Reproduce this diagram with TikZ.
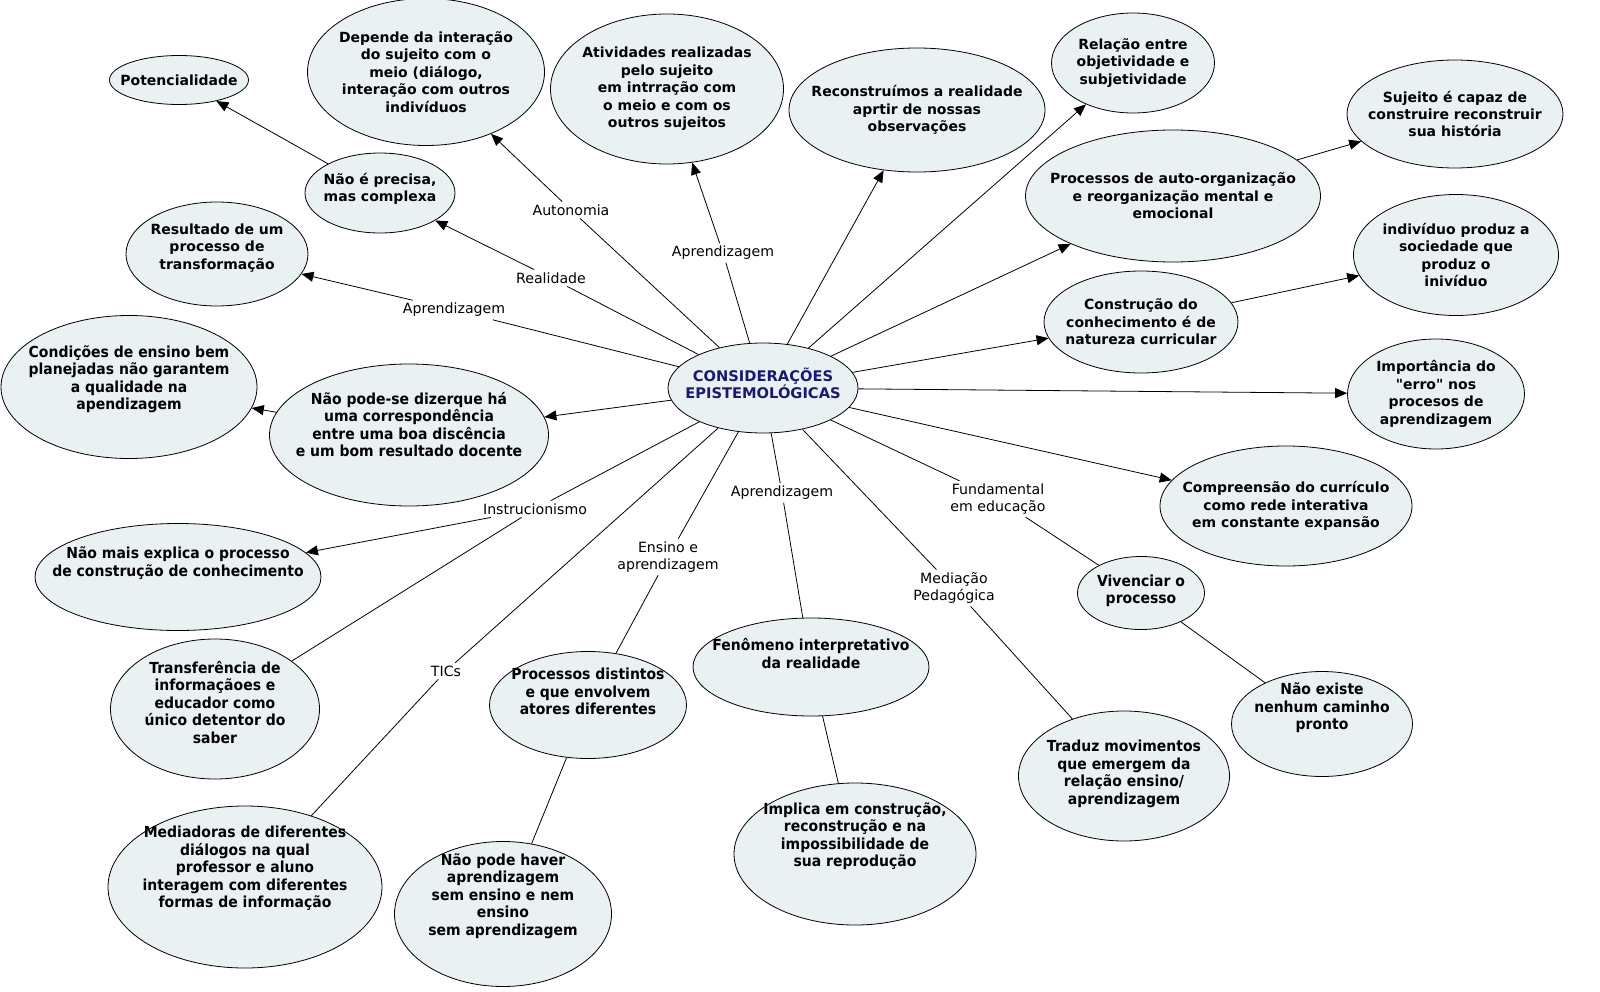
\documentclass[tikz,border=0pt]{standalone}
\usepackage{fontspec}
\setmainfont{DejaVu Sans}
\newfontfamily\condfont[FakeStretch=0.92]{DejaVu Sans}
\usetikzlibrary{shapes.geometric,arrows.meta}

\definecolor{bubfill}{RGB}{233,241,243}
\definecolor{navy}{RGB}{25,25,110}

\tikzset{
  bub/.style={ellipse,draw=black,fill=bubfill,line width=0.6pt,inner sep=0pt},
  btxt/.style={font=\bfseries\fontsize{10.5}{13.1}\selectfont,align=center,inner sep=0pt},
  ctxt/.style={btxt,font=\condfont\bfseries\fontsize{11.4}{13.1}\selectfont},
  lab/.style={fill=white,inner sep=2pt,align=center,font=\fontsize{10.6}{12.8}\selectfont},
  link/.style={line width=0.6pt},
  arr/.style={link,-{Triangle[length=9pt,width=7.5pt]}}
}

% ellipse with its text on top
\newcommand{\conc}[6][btxt]{%
  \node[bub,minimum width=#4*0.75pt,minimum height=#5*0.75pt] (#2) at (#3) {};
  \node[#1] (#2-t) at (#2) {#6};}

\begin{document}
\begin{tikzpicture}[x=0.75pt,y=-0.75pt]
\fill[white] (0,0) rectangle (1600,992);
\useasboundingbox (0,0) rectangle (1600,992);

\conc[btxt,text=navy,font=\bfseries\fontsize{11}{13.1}\selectfont,yshift=3.5pt]{cons}{763,388}{190}{90}{CONSIDERAÇÕES\\EPISTEMOLÓGICAS}

% upper half
\conc{pot}{179,80}{139}{49}{Potencialidade}
\conc{dep}{426,72}{237}{147}{Depende da interação\\do sujeito com o\\meio (diálogo,\\interação com outros\\indivíduos}
\conc{ativ}{667,89}{233}{150}{Atividades realizadas\\pelo sujeito\\em intrração com\\o meio e com os\\outros sujeitos}
\conc{recon}{917,110}{256}{124}{Reconstruímos a realidade\\aprtir de nossas\\observações}
\conc{rel}{1133,63}{163}{100}{Relação entre\\objetividade e\\subjetividade}
\conc{suj}{1455,114}{216}{108}{Sujeito é capaz de\\construire reconstruir\\sua história}
\conc{auto}{1173,196}{295}{132}{Processos de auto-organização\\e reorganização mental e\\emocional}
\conc{indiv}{1456,255}{205}{121}{indivíduo produz a\\sociedade que\\produz o\\inivíduo}
\conc{constr}{1141,322}{194}{102}{Construção do\\conhecimento é de\\natureza curricular}
\conc{erro}{1436,394}{177}{110}{Importância do\\\textquotedbl erro\textquotedbl{} nos\\procesos de\\aprendizagem}
\conc{compr}{1286,506}{252}{120}{Compreensão do currículo\\como rede interativa\\em constante expansão}
\conc[btxt,yshift=3pt]{prec}{380,193}{150}{80}{Não é precisa,\\mas complexa}
\conc[btxt,yshift=4.5pt]{result}{217,254}{182}{104}{Resultado de um\\processo de\\transformação}

% lower half
\conc[ctxt,yshift=6pt]{cond}{129,387}{256}{143}{Condições de ensino bem\\planejadas não garantem\\a qualidade na\\apendizagem}
\conc[ctxt,yshift=8pt]{npode}{409,435}{279}{142}{Não pode-se dizerque há\\uma correspondência\\entre uma boa discência\\e um bom resultado docente}
\conc[ctxt,yshift=10.5pt]{nmais}{178,577}{286}{107}{Não mais explica o processo\\de construção de conhecimento}
\conc[ctxt,yshift=5pt]{transf}{215,709}{209}{140}{Transferência de\\informaçãoes e\\educador como\\único detentor do\\saber}
\conc[ctxt,yshift=14pt]{medi}{245,887}{274}{162}{Mediadoras de diferentes\\diálogos na qual\\professor e aluno\\interagem com diferentes\\formas de informação}
\conc[ctxt,yshift=10pt]{dist}{588,705}{197}{107}{Processos distintos\\e que envolvem\\atores diferentes}
\conc[ctxt,yshift=13.5pt]{haver}{503,914}{217}{145}{Não pode haver\\aprendizagem\\sem ensino e nem\\ensino\\sem aprendizagem}
\conc[ctxt,yshift=10pt]{fen}{811,667}{236}{98}{Fenômeno interpretativo\\da realidade}
\conc[ctxt,yshift=13.5pt]{impl}{855,854}{242}{142}{Implica em construção,\\reconstrução e na\\impossibilidade de\\sua reprodução}
\conc[ctxt,yshift=1.5pt]{trad}{1124,776}{211}{130}{Traduz movimentos\\que emergem da\\relação ensino/\\aprendizagem}
\conc[ctxt,yshift=1.5pt]{viv}{1141,593}{127}{73}{Vivenciar o\\processo}
\conc[ctxt,yshift=12pt]{nexist}{1322,724}{181}{105}{Não existe\\nenhum caminho\\pronto}

% linking words
\node[lab] (l-auto) at (571,210) {Autonomia};
\node[lab] (l-real) at (551,278) {Realidade};
\node[lab] (l-apr1) at (454,310) {Aprendizagem};
\node[lab] (l-apr2) at (723,253) {Aprendizagem};
\node[lab] (l-instr) at (535,509) {Instrucionismo};
\node[lab] (l-ens) at (668,557) {Ensino e\\aprendizagem};
\node[lab] (l-apr3) at (782,493) {Aprendizagem};
\node[lab] (l-tic) at (446,671) {TICs};
\node[lab] (l-med) at (954,588) {Mediação\\Pedagógica};
\node[lab] (l-fund) at (998,499) {Fundamental\\em educação};

% connectors
\draw[link] (cons) -- (l-auto); \draw[arr] (l-auto) -- (dep);
\draw[link] (cons) -- (l-real); \draw[arr] (l-real) -- (prec);
\draw[arr] (prec) -- (pot);
\draw[link] (cons) -- (l-apr1); \draw[arr] (l-apr1) -- (result);
\draw[link] (cons) -- (l-apr2); \draw[arr] (l-apr2) -- (ativ);
\draw[arr] (cons) -- (recon);
\draw[arr] (cons) -- (rel);
\draw[arr] (cons) -- (auto);
\draw[arr] (auto) -- (suj);
\draw[arr] (cons) -- (constr);
\draw[arr] (constr) -- (indiv);
\draw[arr] (cons) -- (erro);
\draw[arr] (cons) -- (compr);
\draw[arr] (cons) -- (npode);
\draw[arr] (npode) -- (cond);
\draw[link] (cons) -- (l-instr); \draw[arr] (l-instr) -- (nmais);
\draw[link] (l-instr) -- (transf);
\draw[link] (cons) -- (l-tic) -- (medi);
\draw[link] (cons) -- (l-ens) -- (dist);
\draw[link] (dist) -- (haver);
\draw[link] (cons) -- (l-apr3) -- (fen);
\draw[link] (fen) -- (impl);
\draw[link] (cons) -- (l-med) -- (trad);
\draw[link] (cons) -- (l-fund) -- (viv);
\draw[link] (viv) -- (nexist);
\end{tikzpicture}
\end{document}
